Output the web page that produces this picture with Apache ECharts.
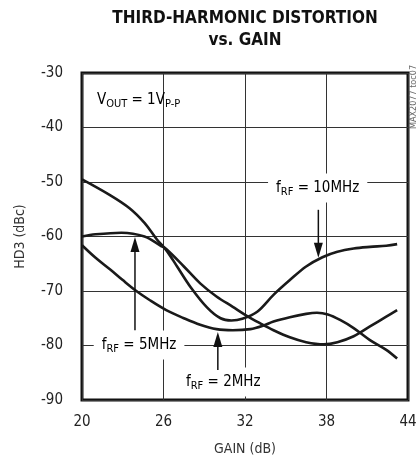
<!DOCTYPE html>
<html>
<head>
<meta charset="utf-8">
<script src="https://cdn.jsdelivr.net/npm/echarts@6/dist/echarts.min.js"></script>
<style>
  html, body { margin: 0; padding: 0; background: #fff; }
  #chart { width: 418px; height: 456px; }
</style>
</head>
<body>
<div id="chart"></div>
<script>
// HD3 vs gain
const gain10 = [20, 22, 23.5, 24.6, 25.5, 26.2, 27, 28, 29.2, 30.2, 31, 31.8, 32.9, 34.1, 35.3, 36.5, 37.7, 38.8, 40, 41.2, 42.4, 43.2]
const hd3_10 = [-49.5, -52.3, -54.8, -57.5, -60.5, -62.5, -65.5, -69.3, -73.0, -75.0, -75.4, -75.1, -73.8, -70.7, -68.0, -65.5, -63.8, -62.8, -62.2, -61.9, -61.7, -61.4]

const gain5 = [20, 21, 22.9, 24.6, 25.8, 26.2, 27.5, 28.7, 29.9, 31.1, 32.1, 33.1, 34.1, 35.3, 36.5, 37.8, 38.8, 40, 41.2, 42.4, 43.2]
const hd3_5 = [-60.0, -59.6, -59.3, -60.0, -61.7, -62.3, -65.5, -68.6, -71.0, -72.9, -74.5, -75.9, -77.2, -78.5, -79.4, -79.8, -79.4, -78.3, -76.5, -74.7, -73.5]

const gain2 = [20, 21, 22.1, 23, 24, 25, 26.2, 27.5, 28.7, 29.9, 31.1, 32.4, 33.3, 34.1, 35.3, 36.5, 37.3, 38.1, 39, 40, 41.2, 42.4, 43.2]
const hd3_2 = [-61.6, -63.9, -66.1, -68.0, -70.0, -71.7, -73.5, -75.0, -76.2, -77.0, -77.2, -77.0, -76.4, -75.6, -74.8, -74.2, -74.0, -74.3, -75.3, -76.8, -79.0, -80.8, -82.4]

// curve labels: [gain, hd3] centre of text
const labels = [
  { name: '10MHz', at: [37.35, -51.1] },
  { name: '5MHz', at: [24.2, -79.9] },
  { name: '2MHz', at: [30.4, -86.7] },
]
// arrows: [gain, tail hd3, tip hd3]
const arrows = [
  [37.4, -55.1, -63.9],
  [23.9, -77.2, -60.1],
  [30.0, -84.5, -77.5],
]

const FONT = '"Liberation Sans Narrow", "DejaVu Sans Condensed", sans-serif'
const zip = (xs, ys) => xs.map((x, i) => [x, ys[i]])

const chart = echarts.init(document.getElementById('chart'))

const curve = (name, data) => ({
  name,
  type: 'line',
  data,
  smooth: 0.35,
  showSymbol: false,
  silent: true,
  lineStyle: { color: '#1a1a1a', width: 2.6 },
})

chart.setOption({
  animation: false,
  backgroundColor: '#fff',
  grid: {
    left: 82, right: 10, top: 73, bottom: 56,
    outerBoundsMode: 'none', containLabel: false,
    show: true, borderColor: '#111', borderWidth: 3,
  },
  xAxis: {
    type: 'value', min: 20, max: 44, interval: 6,
    name: 'GAIN (dB)', nameLocation: 'middle', nameGap: 42,
    nameTextStyle: { fontFamily: FONT, fontSize: 14, color: '#333' },
    axisLine: { show: false },
    axisTick: { show: false },
    axisLabel: { fontFamily: FONT, fontSize: 15, color: '#222', margin: 15 },
    splitLine: { lineStyle: { color: '#333', width: 1 } },
  },
  yAxis: {
    type: 'value', min: -90, max: -30, interval: 10,
    name: 'HD3 (dBc)', nameLocation: 'middle', nameGap: 55,
    nameTextStyle: { fontFamily: FONT, fontSize: 14, color: '#333' },
    axisLine: { show: false },
    axisTick: { show: false },
    axisLabel: { fontFamily: FONT, fontSize: 15, color: '#222', margin: 19 },
    splitLine: { lineStyle: { color: '#333', width: 1 } },
  },
  series: [
    curve('10MHz', zip(gain10, hd3_10)),
    curve('5MHz', zip(gain5, hd3_5)),
    curve('2MHz', zip(gain2, hd3_2)),
  ],
})

const px = (p) => chart.convertToPixel({ gridIndex: 0 }, p)

const rich = {
  n: { fontFamily: FONT, fontSize: 15, color: '#222', lineHeight: 19, verticalAlign: 'middle' },
  s: { fontFamily: FONT, fontSize: 11, color: '#222', lineHeight: 19, verticalAlign: 'bottom' },
}

const graphics = []

graphics.push({
  type: 'text', x: 245, y: 8, z: 10,
  style: {
    text: 'THIRD-HARMONIC DISTORTION\nvs. GAIN',
    font: 'bold 17px ' + FONT, fill: '#111', align: 'center', lineHeight: 22,
  },
})

const vout = px([21.1, -35.0])
graphics.push({
  type: 'text', x: vout[0], y: vout[1], z: 10,
  style: { text: '{n|V}{s|OUT}{n| = 1V}{s|P-P}', rich, verticalAlign: 'middle' },
})

labels.forEach((l) => {
  const p = px(l.at)
  graphics.push({
    type: 'text', x: p[0], y: p[1], z: 10,
    style: {
      text: '{n|f}{s|RF}{n| = ' + l.name + '}', rich,
      align: 'center', verticalAlign: 'middle',
      backgroundColor: '#fff', padding: [5, 8, 5, 8],
    },
  })
})

arrows.forEach(([g, tail, tip]) => {
  const a = px([g, tail])
  const b = px([g, tip])
  const dir = b[1] < a[1] ? 1 : -1
  graphics.push({
    type: 'line', z: 10,
    shape: { x1: a[0], y1: a[1], x2: b[0], y2: b[1] + dir * 10 },
    style: { stroke: '#111', lineWidth: 1.5 },
  })
  graphics.push({
    type: 'polygon', z: 10,
    shape: { points: [[b[0], b[1]], [b[0] - 4.5, b[1] + dir * 15], [b[0] + 4.5, b[1] + dir * 15]] },
    style: { fill: '#111' },
  })
})

graphics.push({
  type: 'text', x: 414, y: 97, rotation: Math.PI / 2, z: 10,
  style: { text: 'MAX2077 toc07', font: '9px ' + FONT, fill: '#666', align: 'center', verticalAlign: 'middle' },
})

chart.setOption({ graphic: graphics })
</script>
</body>
</html>
